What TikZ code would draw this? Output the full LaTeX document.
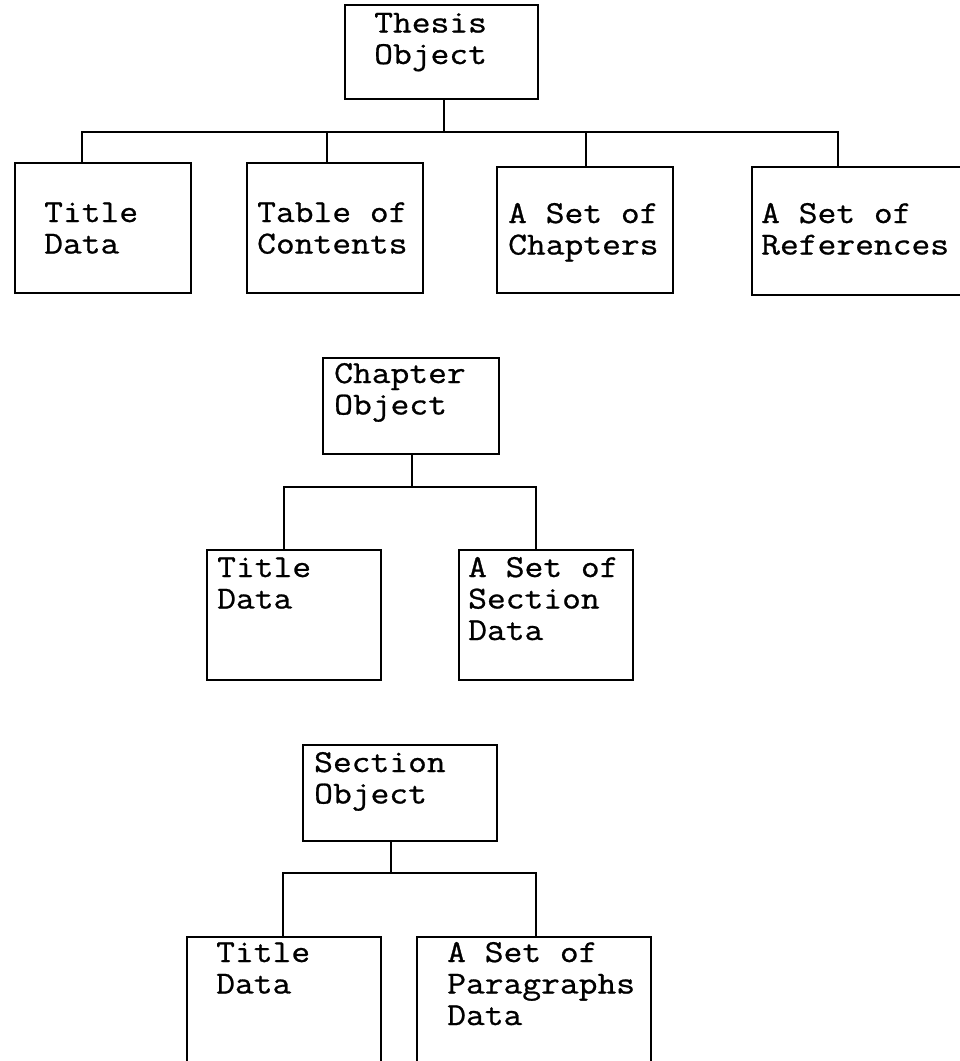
\documentclass[tikz,border=0pt]{standalone}
\usepackage{fontspec}
\newfontfamily\diagmono[FakeStretch=1.14, FakeBold=0.8]{Latin Modern Mono}
\begin{document}
\begin{tikzpicture}[x=1pt,y=-1pt,
  box/.style={draw, line width=2pt, inner sep=0pt, outer sep=0pt},
  lbl/.style={font=\diagmono\fontsize{32}{31.5}\selectfont, align=left, inner sep=0pt, anchor=base west},
  link/.style={line width=2pt}]
\useasboundingbox (0,0) rectangle (960,1061);
\clip (0,0) rectangle (960,1061);
\fill[white] (0,0) rectangle (960,1061);

% ---- level 1 (label y = baseline of the last line)
\node[box, minimum width=193pt, minimum height=94pt] (thesis) at (441.5,52) {};
\node[lbl] (thesisT) at (374,64) {Thesis\\Object};

\node[box, minimum width=176pt, minimum height=130pt] (td1) at (103,228) {};
\node[lbl] (td1T) at (44,253.5) {Title\\Data};
\node[box, minimum width=176pt, minimum height=130pt] (toc) at (335,228) {};
\node[lbl] (tocT) at (257,253.5) {Table of\\Contents};
\node[box, minimum width=176pt, minimum height=126pt] (chs) at (585,230) {};
\node[lbl] (chsT) at (508,254.5) {A Set of\\Chapters};
\node[box, minimum width=223pt, minimum height=128pt] (refs) at (863.5,231) {};
\node[lbl] (refsT) at (761,254.5) {A Set of\\References};

\coordinate (j1) at (444,132);
\draw[link] (thesis.south -| j1) -- (j1);
\draw[link] ([xshift=67pt]td1.north west) |- (j1);
\draw[link] ([xshift=80pt]toc.north west) |- (j1);
\draw[link] ([xshift=89pt]chs.north west) |- (j1);
\draw[link] ([xshift=86pt]refs.north west) |- (j1);

% ---- level 2
\node[box, minimum width=176pt, minimum height=96pt] (chap) at (411,406) {};
\node[lbl] (chapT) at (334,414.5) {Chapter\\Object};
\node[box, minimum width=174pt, minimum height=130pt] (td2) at (294,615) {};
\node[lbl] (td2T) at (217,608.5) {Title\\Data};
\node[box, minimum width=174pt, minimum height=130pt] (sec) at (546,615) {};
\node[lbl] (secT) at (468,640) {A Set of\\Section\\Data};

\coordinate (j2) at (412,487);
\draw[link] (chap.south -| j2) -- (j2);
\draw[link] ([xshift=77pt]td2.north west) |- (j2);
\draw[link] ([xshift=77pt]sec.north west) |- (j2);

% ---- level 3
\node[box, minimum width=194pt, minimum height=96pt] (secobj) at (400,793) {};
\node[lbl] (secobjT) at (314,803.5) {Section\\Object};
\node[box, minimum width=194pt, minimum height=143pt] (td3) at (284,1008.5) {};
\node[lbl] (td3T) at (216,993.5) {Title\\Data};
\node[box, minimum width=234pt, minimum height=143pt] (par) at (534,1008.5) {};
\node[lbl] (parT) at (447,1025) {A Set of\\Paragraphs\\Data};

\coordinate (j3) at (391,873);
\draw[link] (secobj.south -| j3) -- (j3);
\draw[link] ([xshift=96pt]td3.north west) |- (j3);
\draw[link] ([xshift=119pt]par.north west) |- (j3);
\end{tikzpicture}
\end{document}
